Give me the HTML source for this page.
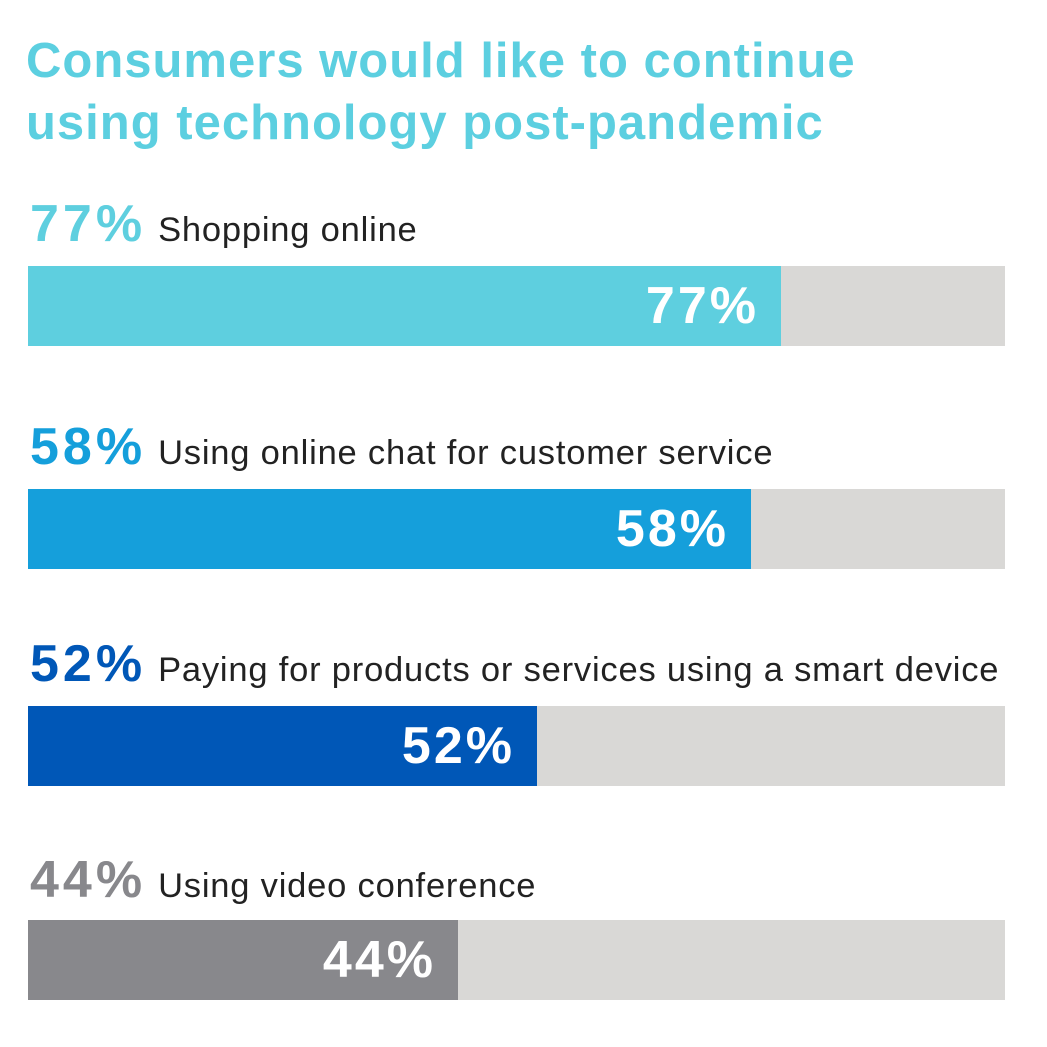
<!DOCTYPE html>
<html><head><style>
body{margin:0;width:1047px;height:1047px;background:#fff;font-family:"Liberation Sans",sans-serif;position:relative;overflow:hidden}
.t{position:absolute;left:26px;top:30px;color:#5ccfe0;font-weight:bold;font-size:49px;line-height:62px;letter-spacing:1px}
.lab{position:absolute;left:30px;white-space:nowrap;font-size:34.5px;color:#222;letter-spacing:0.8px}
.lab b{font-size:52px;margin-right:12px;letter-spacing:4px}
.bar{position:absolute;left:28px;width:977px;height:80px;background:#d9d8d6}
.fill{position:absolute;left:0;top:0;height:80px}
.fill span{position:absolute;right:22px;top:10px;color:#fff;font-weight:bold;font-size:52px;letter-spacing:3px}
</style></head><body>
<div class="t">Consumers would like to continue<br>using technology post-pandemic</div>

<div class="lab" style="top:194px"><b style="color:#5ecfdf">77%</b>Shopping online</div>
<div class="bar" style="top:266px"><div class="fill" style="width:753px;background:#5ecfdf"><span>77%</span></div></div>

<div class="lab" style="top:417px"><b style="color:#159fdb">58%</b>Using online chat for customer service</div>
<div class="bar" style="top:489px"><div class="fill" style="width:723px;background:#159fdb"><span>58%</span></div></div>

<div class="lab" style="top:634px"><b style="color:#0057b7">52%</b>Paying for products or services using a smart device</div>
<div class="bar" style="top:706px"><div class="fill" style="width:509px;background:#0057b7"><span>52%</span></div></div>

<div class="lab" style="top:850px"><b style="color:#88888c">44%</b>Using video conference</div>
<div class="bar" style="top:920px"><div class="fill" style="width:430px;background:#88888c"><span>44%</span></div></div>
</body></html>
